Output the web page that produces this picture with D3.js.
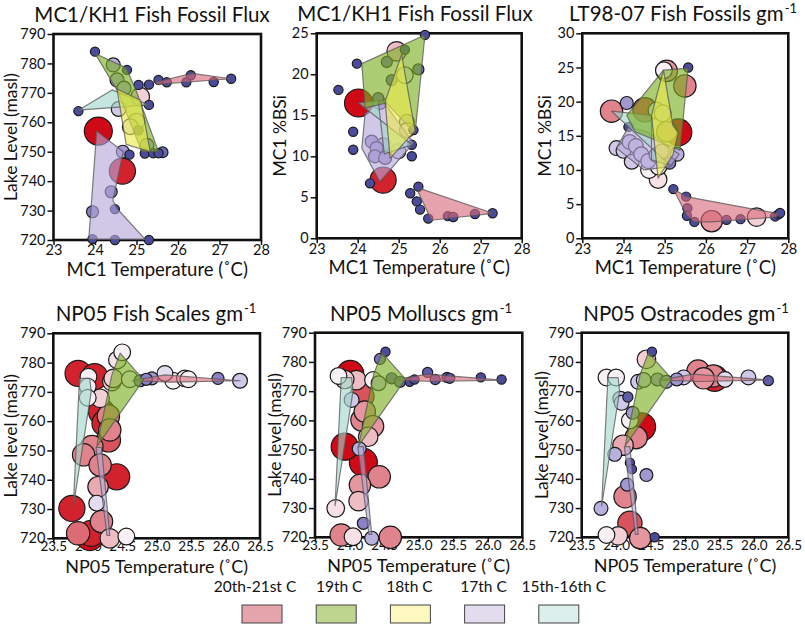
<!DOCTYPE html>
<html><head><meta charset="utf-8">
<script src="https://cdn.jsdelivr.net/npm/d3@7"></script>
<style>
body{margin:0;background:#fff}
svg{display:block}
text{font-family:Lato,"Open Sans",sans-serif;fill:#111}
</style></head>
<body><svg id="c" width="805" height="625"></svg>
<script>
// ---------- DATA ----------
const periods = ["20th-21st C","19th C","18th C","17th C","15th-16th C"];
const tempTicksMC1 = [23,24,25,26,27,28];
const tempTicksNP05 = [23.5,24.0,24.5,25.0,25.5,26.0,26.5];
const levelTicks = [720,730,740,750,760,770,780,790];
const bsiTicksA = [0,5,10,15,20,25];
const bsiTicksB = [0,5,10,15,20,25,30];

// Panel A: MC1/KH1 fish fossil flux (MC1 temperature vs lake level)
const aTemp  = [24.0,24.44,24.77,24.53,24.7,25.05,25.3,25.53,25.73,26.2,26.31,26.86,27.28,23.6,25.3,25.09,24.57,25.0,24.85,25.05,24.08,25.25,24.67,24.83,25.2,25.4,25.53,25.63,24.66,24.39,24.48,23.94,23.94,24.48,25.3];
const aLevel = [784,779.5,777.8,774.4,771.6,772.7,772.8,774.4,773.6,773.6,776,773.7,774.8,763.8,765.9,768.7,764.5,760.2,758.5,757.3,757,752.2,750,749,749.4,749.5,749.5,749.8,743.4,736.4,730.5,729.6,720.3,720,720];
const aFlux  = [0,2.5,0,2.5,2.5,0,0,0,0,0,0,0,0,0,0,5,3,4,3.5,0,10,2.5,2,0,0,0,0,0.8,9,1.5,0,1.5,0,0,0];
const aPolys = [
  [[25.45,773.6],[26.34,776.6],[27.28,774.8],[25.5,772.9]],
  [[24.0,783.4],[24.75,778.5],[24.97,771.5],[25.53,750],[25.13,750],[24.55,770.5]],
  [[24.53,771.3],[25.1,767.5],[25.33,750],[24.75,752.5]],
  [[24.04,757],[24.68,750],[24.43,733.5],[24.53,730.7],[25.21,720.2],[23.85,720.2]],
  [[23.6,764.1],[24.41,771],[25.29,765.9]]
];

// Panel B: MC1/KH1 fish fossil flux (MC1 temperature vs MC1 %BSi)
const bTemp = [25.64,25.15,24.95,24.71,23.98,25.48,25.15,24.83,23.53,24.5,24.02,24.54,25.2,25.2,25.36,23.89,24.34,24.62,25.32,24.46,24.99,23.89,24.42,24.67,25.32,24.62,24.3,25.28,25.48,25.44,25.52,25.72,26.2,26.33,26.86,27.29];
const bBsi  = [24.8,23.0,22.8,21.5,21.3,20.6,19.9,19.3,18.1,17.1,16.5,16.5,14.2,13.2,13.2,13.0,11.8,11.4,11.4,11.0,10.6,10.8,10.0,9.8,10.0,7.1,6.7,5.5,6.3,4.5,3.5,2.4,2.7,2.6,2.96,3.05];
const bFlux = [0,0,5.5,1,0,1,4,1,0,1,10,2,3,3,0,0,2,2.5,0,2,3,0,2,2,0,9,0,0,0,0,0,0,0,0,0,0];
const bPolys = [
  [[25.48,5.6],[25.56,6.0],[27.3,3.05],[25.8,2.2]],
  [[24.1,21.3],[25.64,24.8],[25.4,12.8],[24.7,16.5],[24.18,15.9]],
  [[25.07,22.4],[25.4,13.1],[24.79,9.75],[24.67,16.7]],
  [[24.18,15.2],[24.59,16.9],[25.36,11.6],[24.54,6.9],[24.1,11]],
  [[24.02,16.5],[24.5,16.8],[24.65,10.3],[25.32,11.4]]
];

// Panel C: LT98-07 fish fossils gm-1 (MC1 temperature vs MC1 %BSi)
const cTemp = [25.05,24.98,25.57,25.49,23.71,24.08,24.52,24.8,24.95,24.12,25.33,25.05,23.83,24.0,24.15,24.3,24.2,24.43,24.6,24.8,24.93,25.12,25.3,24.62,24.85,24.84,25.21,25.52,25.55,25.54,25.72,26.14,26.5,26.84,27.23,27.68,27.76,27.8];
const cBsi  = [24.5,24.6,25.0,22.3,18.6,19.8,18.8,18.7,18.3,16.3,15.5,15.6,13.2,12.8,14.1,13.5,11.2,12.3,11.3,12.2,12.7,11.0,12.3,10.0,10.5,8.6,7.2,6.1,4.4,3.3,2.4,2.5,2.7,2.8,3.1,3.2,3.5,3.7];
const cFish = [6.5,4,0,7,7,2,8,4,4,0,9.5,6,3,3,3,3,3,3,3,3,3,1.5,2.5,4,4,4.5,0,0,0,0,0,6.5,0,0,5,0,0,0];
const cPolys = [
  [[25.21,7.2],[25.52,6.1],[27.76,3.6],[27.7,3.1],[26.14,2.4],[25.72,2.4],[25.54,3.3]],
  [[24.08,18.0],[24.97,24.6],[25.57,24.9],[25.37,12.9],[24.28,15.6]],
  [[24.97,24.6],[25.2,16.5],[25.33,15.5],[25.2,12.2],[24.84,8.8],[24.68,18.0]],
  [[24.12,16.3],[24.6,15.5],[25.35,12.3],[25.13,10.5],[24.5,10.0],[23.83,13.2]],
  [[23.71,18.6],[24.68,18.0],[24.68,11.5],[25.13,10.7]]
];

// NP05 period polygons (NP05 temperature vs lake level), shared by panels D-F
const npPolys = [
  [[24.64,773.8],[25.12,775.8],[26.21,773.8],[25.2,773.3]],
  [[24.47,783.2],[24.81,774.1],[24.13,751.3],[24.35,775.8]],
  [],
  [[24.12,751],[24.2,751],[24.32,721],[24.28,721]],
  [[23.88,774.6],[24.03,774.6],[24.05,770],[23.79,730.8]]
];

// Panel D: NP05 fish scales gm-1
const dTemp  = [24.5,24.43,23.86,24.1,24.01,24.35,24.37,24.61,24.76,24.85,24.93,25.12,25.24,25.41,25.46,25.89,26.21,24.0,24.0,24.18,24.2,24.25,24.3,24.32,24.3,24.06,23.94,24.18,24.42,24.15,24.13,23.77,24.2,23.86,24.05,24.03,24.32,24.56];
const dLevel = [783.5,780.9,776.3,775.2,775.2,773.5,774.6,774.3,773.8,774.3,774.6,776.3,773.8,774.6,774.3,774.6,773.8,771.8,768,767.8,763.2,759.3,761.8,757,753.6,751.3,748.5,745,741,737.6,732,730.2,725.7,721.7,721.7,720.6,720,720.6];
const dFish  = [4,4.5,9,9,4,5,5,4,1.5,1.5,2,3.5,4,4,4,1.5,3,4,4,5,9,9,7,7,8,7,7,7,9,6,3.5,9,7,7.5,9,10,5.5,4];

// Panel E: NP05 molluscs gm-1
const eTemp  = [24.52,24.44,23.84,24.01,23.93,24.1,24.34,24.42,24.61,24.73,24.87,24.94,25.13,25.24,25.41,25.45,25.9,26.2,24.18,24.03,24.22,24.18,24.34,24.27,23.93,24.14,24.2,24.43,24.15,24.13,23.8,24.2,23.88,24.05,24.32,24.59];
const eLevel = [783.5,781,775.2,775.9,774,773.8,773.8,772.7,774.4,773.2,773.2,774,776.4,774,774.7,774.4,774.7,774,768.3,767,763,760.1,758,754.4,751,750.3,745.6,740.7,737.9,732.4,729.9,724.8,720.8,720.2,719.7,720];
const eMoll  = [0,1,4,9.5,5,5.5,4,3,1,1,0,0,0.5,0.5,0.5,0.5,0,0,8,3,6.5,7,6.5,5.5,9.5,2.5,10,7,6.5,5.5,4.5,1.5,7,4.5,2.5,7];

// Panel F: NP05 ostracodes gm-1
const fTemp  = [24.52,24.44,23.86,24.0,24.32,24.4,24.6,24.73,24.88,24.98,25.19,25.27,25.41,25.43,25.58,25.92,26.21,24.17,24.06,24.08,24.24,24.2,24.37,24.29,24.1,23.98,24.2,24.23,24.44,24.16,24.13,23.78,24.2,23.86,24.03,24.35,24.56];
const fLevel = [783.5,780.9,774.7,774.7,773.2,773.8,774,773.2,774,774.7,776.9,774.4,775.2,774.4,774,774.7,773.6,768,767.4,766,762.6,760,757.8,754.1,751.5,748.4,745.5,743.3,741.3,738,733.9,729.9,724.8,720.8,720.5,719.7,720];
const fOstr  = [0,5,4,4,3,3,2,2,2,3,7,6.5,7,9,3.5,3,0.5,0.5,3,3,2,4,10,7,6,2.5,0,0,2,2,7,2.5,8,4,5,6.5,0];

// ---------- STYLE / LAYOUT ----------
const polyColors = ["#d86a7a","#7aae20","#ecea4a","#b4a6da","#a2d6ca"];
const legendColors = ["#e6a5ad","#bdd58f","#fcf8c0","#e2dcee","#ddefec"];
const legendLabelShift = [-7,3,-1,-1,5];
const drawOrder = [3,4,0,1,2];
const colorScale = d3.scaleLinear().domain([0,1.5,3,4,5,7,9.5])
  .range(["#4b4b9e","#8a80c6","#cfc8e8","#f7f1f5","#f2d0d6","#e0838d","#cf0a16"]).clamp(true);
const rScale = d3.scaleLinear().domain([0,10]).range([4.6,14]).clamp(true);

const panels = [
  {title:"MC1/KH1 Fish Fossil Flux", sup:"", xl:"MC1 Temperature (\u02DAC)", yl:"Lake Level (masl)",
   xd:[23,28], yd:[720,790], xt:tempTicksMC1, yt:levelTicks, fmt:d3.format("d"), xfs:14.5, xly:36, xdy:"0.71em", xlfs:18.5,
   xs:aTemp, ys:aLevel, vs:aFlux, polys:aPolys, box:[53.5,34,261,240], tx:152, ylx:11},
  {title:"MC1/KH1 Fish Fossil Flux", sup:"", xl:"MC1 Temperature (\u02DAC)", yl:"MC1 %BSi",
   xd:[23,28], yd:[0,25], xt:tempTicksMC1, yt:bsiTicksA, fmt:d3.format("d"), xfs:14.5, xly:36, xdy:"0.71em", xlfs:18.5,
   xs:bTemp, ys:bBsi, vs:bFlux, polys:bPolys, box:[316.7,33.3,521.7,238.3], tx:415, ylx:280},
  {title:"LT98-07 Fish Fossils gm", sup:"-1", xl:"MC1 Temperature (\u02DAC)", yl:"MC1 %BSi",
   xd:[23,28], yd:[0,30], xt:tempTicksMC1, yt:bsiTicksB, fmt:d3.format("d"), xfs:14.5, xly:36, xdy:"0.71em", xlfs:18.5,
   xs:cTemp, ys:cBsi, vs:cFish, polys:cPolys, box:[582.3,33.3,788.3,238.3], tx:683, ylx:545},
  {title:"NP05 Fish Scales gm", sup:"-1", xl:"NP05 Temperature (\u02DAC)", yl:"Lake level (masl)",
   xd:[23.5,26.5], yd:[720,790], xt:tempTicksNP05, yt:levelTicks, fmt:d3.format(".1f"), xfs:13.5, xly:34.5, xdy:"0.6em", xlfs:18,
   xs:dTemp, ys:dLevel, vs:dFish, polys:npPolys, box:[53.3,333.3,260,538.3], tx:156, ylx:11},
  {title:"NP05 Molluscs gm", sup:"-1", xl:"NP05 Temperature (\u02DAC)", yl:"Lake level (masl)",
   xd:[23.5,26.5], yd:[720,790], xt:tempTicksNP05, yt:levelTicks, fmt:d3.format(".1f"), xfs:13.5, xly:34.5, xdy:"0.6em", xlfs:18,
   xs:eTemp, ys:eLevel, vs:eMoll, polys:npPolys, box:[315,332.7,522.3,537.3], tx:421, ylx:275},
  {title:"NP05 Ostracodes gm", sup:"-1", xl:"NP05 Temperature (\u02DAC)", yl:"Lake Level (masl)",
   xd:[23.5,26.5], yd:[720,790], xt:tempTicksNP05, yt:levelTicks, fmt:d3.format(".1f"), xfs:13.5, xly:34.5, xdy:"0.6em", xlfs:18,
   xs:fTemp, ys:fLevel, vs:fOstr, polys:npPolys, box:[581.7,332.7,788.3,537.3], tx:686, ylx:542}
];

const svg = d3.select("#c");

panels.forEach(p => {
  const [x0,y0,x1,y1] = p.box;
  const x = d3.scaleLinear().domain(p.xd).range([x0,x1]);
  const y = d3.scaleLinear().domain(p.yd).range([y1,y0]);
  const g = svg.append("g");

  // axes
  const ax = g.append("g").attr("transform",`translate(0,${y1})`)
    .call(d3.axisBottom(x).tickValues(p.xt).tickFormat(p.fmt).tickSize(5).tickPadding(0));
  const ay = g.append("g").attr("transform",`translate(${x0},0)`)
    .call(d3.axisLeft(y).tickValues(p.yt).tickFormat(d3.format("d")).tickSize(6).tickPadding(2));
  [ax,ay].forEach(a => {
    a.select(".domain").remove();
    a.selectAll("line").attr("stroke","#111").attr("stroke-width",1.5);
    a.selectAll("text").style("font-family","Lato, sans-serif").attr("fill","#111");
  });
  ax.selectAll("text").style("font-size", p.xfs + "px").attr("dy", p.xdy);
  ay.selectAll("text").style("font-size","14.5px");

  // frame
  g.append("rect").attr("x",x0).attr("y",y0).attr("width",x1-x0).attr("height",y1-y0)
    .attr("fill","none").attr("stroke","#111").attr("stroke-width",2.6);

  // points (larger first)
  const pts = p.xs.map((t,i)=>({t, l:p.ys[i], v:p.vs[i]}))
    .sort((a,b)=>b.v-a.v);
  g.append("g").selectAll("circle").data(pts).join("circle")
    .attr("cx",d=>x(d.t)).attr("cy",d=>y(d.l)).attr("r",d=>rScale(d.v))
    .attr("fill",d=>colorScale(d.v)).attr("stroke","#1a1a1a").attr("stroke-width",1.2);

  // period polygons
  const line = d3.line().x(d=>x(d[0])).y(d=>y(d[1])).curve(d3.curveLinearClosed);
  drawOrder.forEach(k => {
    const poly = p.polys[k];
    if (!poly || poly.length < 2) return;
    g.append("path").attr("d", line(poly))
      .attr("fill", polyColors[k]).attr("fill-opacity",0.62)
      .attr("stroke","#555").attr("stroke-opacity",0.75).attr("stroke-width",1.2)
      .attr("stroke-linejoin","round");
  });

  // title (main text + superscript placed after it, centred as a whole)
  const tg = svg.append("g");
  const main = tg.append("text").attr("y",y0-12).style("font-size","20.5px").text(p.title);
  const wMain = main.node().getComputedTextLength();
  let wSup = 0, sup = null;
  if (p.sup) {
    sup = tg.append("text").attr("y",y0-20).style("font-size","13px").text(p.sup);
    wSup = sup.node().getComputedTextLength() + 1;
  }
  const start = p.tx - (wMain + wSup)/2;
  main.attr("x", start);
  if (sup) sup.attr("x", start + wMain + 1);

  // x label
  svg.append("text").attr("x",(x0+x1)/2).attr("y",y1+p.xly).attr("text-anchor","middle")
    .style("font-size", p.xlfs + "px").text(p.xl);
  // y label
  svg.append("text").attr("transform",`translate(${p.ylx},${(y0+y1)/2}) rotate(-90)`)
    .attr("text-anchor","middle").attr("dy","0.35em").style("font-size","17.5px").text(p.yl);
});

// legend
const lg = svg.append("g");
periods.forEach((name,i) => {
  const bx = 242 + i*74.2;
  lg.append("rect").attr("x",bx).attr("y",605).attr("width",40).attr("height",18)
    .attr("fill",legendColors[i]).attr("stroke","#444").attr("stroke-width",1);
  lg.append("text").attr("x",bx+20+legendLabelShift[i]).attr("y",592).attr("text-anchor","middle")
    .style("font-size","15.5px").text(name);
});
</script></body></html>
